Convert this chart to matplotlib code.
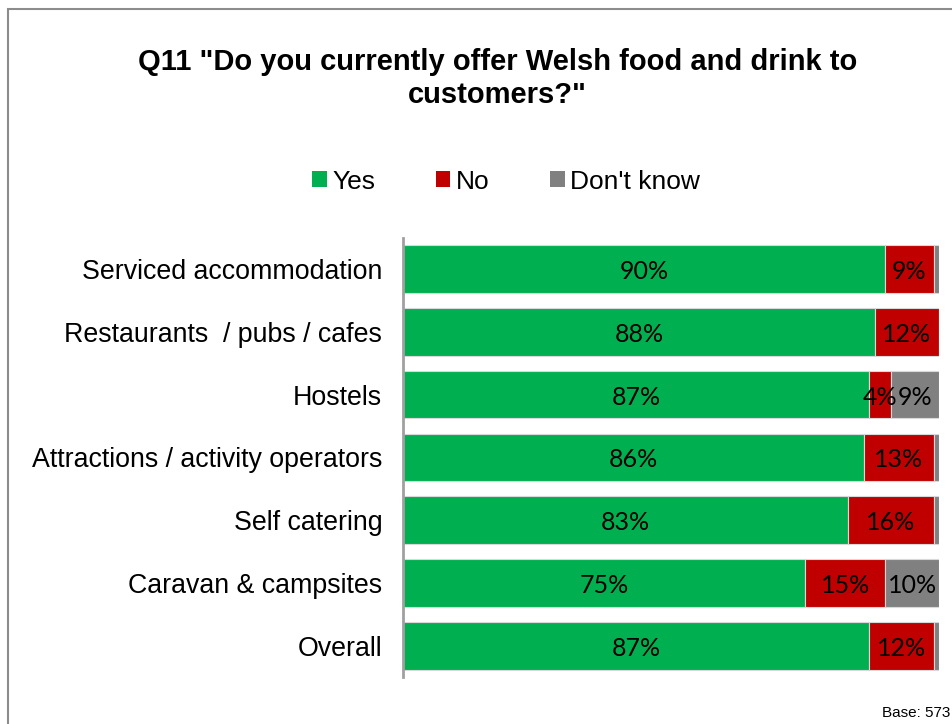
import matplotlib.pyplot as plt
import numpy as np
from matplotlib.patches import Rectangle, Patch

categories = ['Serviced accommodation', 'Restaurants  / pubs / cafes', 'Hostels',
              'Attractions / activity operators', 'Self catering',
              'Caravan & campsites', 'Overall']
yes = [90, 88, 87, 86, 83, 75, 87]
no = [9, 12, 4, 13, 16, 15, 12]
dont_know = [1, 0, 9, 1, 1, 10, 1]

series = [('Yes', yes, '#00b050'), ('No', no, '#c00000'), ("Don't know", dont_know, '#808080')]

fig = plt.figure(figsize=(9.53, 7.24), dpi=100)
ax = fig.add_axes([403 / 953, 1 - 677 / 724, (939 - 403) / 953, (677 - 238) / 724])

y = np.arange(len(categories))
left = np.zeros(len(categories))
for name, vals, col in series:
    vals = np.array(vals, dtype=float)
    ax.barh(y, vals, left=left, height=0.76, color=col, edgecolor='#d9d9d9',
            linewidth=0.8, label=name)
    for yi, l, v in zip(y, left, vals):
        if v >= 3:
            ax.text(l + v / 2, yi + 0.04, f'{v:.0f}%', ha='center', va='center',
                    fontsize=18, family='Lato', color='black')
    left += vals

ax.set_xlim(0, 100)
ax.set_ylim(6.496, -0.494)
ax.set_yticks(y)
ax.set_yticklabels(categories, fontsize=19.3, family='Liberation Sans')
ax.tick_params(axis='y', length=0, pad=15)
ax.set_xticks([])
for s in ['top', 'right', 'bottom']:
    ax.spines[s].set_visible(False)
ax.spines['left'].set_color('#a0a0a0')
ax.spines['left'].set_linewidth(2)

fig.text(0.522, 0.891, 'Q11 "Do you currently offer Welsh food and drink to\ncustomers?"',
         ha='center', va='center', fontsize=21, fontweight='bold',
         family='Liberation Sans', linespacing=1.22)

handles = [Patch(facecolor=c, edgecolor='none') for _, _, c in series]
fig.legend(handles, [s[0] for s in series], loc='center', bbox_to_anchor=(0.531, 0.749),
           ncol=3, frameon=False, prop={'family': 'Liberation Sans', 'size': 19},
           handlelength=0.55, handleheight=0.55, handletextpad=0.2, columnspacing=2.3)

fig.text(0.997, 0.006, 'Base: 573', ha='right', va='bottom', fontsize=11, family='Liberation Sans')

fig.patches.append(Rectangle((8 / 953, -0.1), 1.2, 1 - 9 / 724 + 0.1, transform=fig.transFigure,
                             fill=False, edgecolor='#8c8c8c', linewidth=1.5))

fig.savefig('out.png', dpi=100)
